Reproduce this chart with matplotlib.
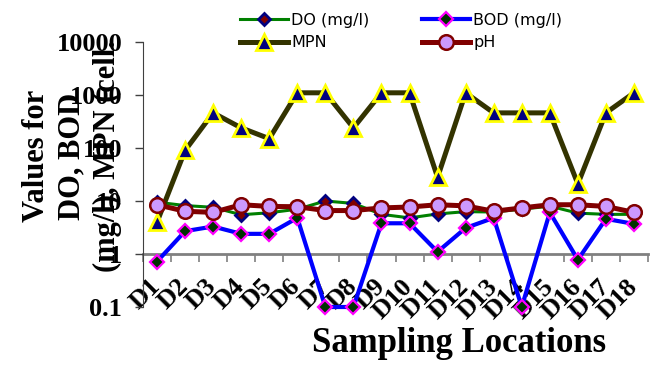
import matplotlib
matplotlib.use("Agg")
import matplotlib.pyplot as plt
import matplotlib.transforms as mtransforms
import numpy as np

locations = ["D1", "D2", "D3", "D4", "D5", "D6", "D7", "D8", "D9",
             "D10", "D11", "D12", "D13", "D14", "D15", "D16", "D17", "D18"]
do_vals = [9.5, 8.2, 7.6, 5.5, 6.0, 7.0, 10.0, 9.0, 5.6,
           4.8, 5.7, 6.3, 6.2, 7.0, 8.0, 5.9, 5.6, 5.6]
bod_vals = [0.72, 2.7, 3.3, 2.4, 2.4, 4.8, 0.1, 0.1, 3.8,
            3.8, 1.1, 3.1, 4.8, 0.1, 6.1, 0.78, 4.6, 3.7]
mpn_vals = [4, 90, 460, 240, 150, 1100, 1100, 240, 1100,
            1100, 28, 1100, 460, 460, 460, 21, 460, 1100]
ph_vals = [8.5, 6.4, 6.1, 8.5, 7.9, 7.8, 6.6, 6.6, 7.4,
           7.7, 8.5, 8.1, 6.4, 7.4, 8.5, 8.5, 7.9, 6.1]
y_ticks = [0.1, 1, 10, 100, 1000, 10000]
y_ticklabels = ["0.1", "1", "10", "100", "1000", "10000"]

serif = "Liberation Serif"
x = np.arange(len(locations))

fig = plt.figure(figsize=(6.68, 3.68), dpi=100)
ax = fig.add_axes([143 / 668, 1 - 307 / 368, 505 / 668, 265 / 368])

l_do, = ax.plot(x, do_vals, color="#008000", lw=2.2, marker="D", ms=6,
                mfc="#800000", mec="#000080", mew=2, label="DO (mg/l)", clip_on=False)
l_bod, = ax.plot(x, bod_vals, color="#0000FF", lw=3, marker="D", ms=7,
                 mfc="#003300", mec="#FF00FF", mew=1.6, label="BOD (mg/l)", clip_on=False)
l_mpn, = ax.plot(x, mpn_vals, color="#333300", lw=3.6, marker="^", ms=11,
                 mfc="#000080", mec="#FFFF00", mew=2, label="MPN", clip_on=False)
l_ph, = ax.plot(x, ph_vals, color="#800000", lw=3.6, marker="o", ms=10.5,
                mfc="#CC99FF", mec="#800000", mew=1.8, label="pH", clip_on=False)

ax.set_yscale("log")
ax.set_ylim(0.1, 10000)
ax.set_xlim(-0.5, len(locations) - 0.5)
ax.set_yticks(y_ticks)
ax.set_yticklabels(y_ticklabels, fontfamily=serif, fontweight="bold", fontsize=19)
ax.yaxis.set_minor_locator(matplotlib.ticker.NullLocator())
ax.tick_params(axis="y", length=6, width=1, color="#404040", pad=9)

for side in ["top", "right"]:
    ax.spines[side].set_visible(False)
ax.spines["left"].set_color("#404040")
ax.spines["bottom"].set_position(("data", 1))
ax.spines["bottom"].set_color("#808080")
ax.spines["bottom"].set_linewidth(2)
ax.spines["bottom"].set_zorder(1)

ax.set_xticks(np.arange(len(locations) + 1) - 0.5)
ax.set_xticklabels([])
ax.tick_params(axis="x", which="major", length=6, width=1.2, color="#808080")
ax.set_xticks(x, minor=True)
ax.set_xticklabels(locations, minor=True, rotation=45, ha="right", va="top",
                   fontfamily=serif, fontweight="bold", fontsize=19)
ax.tick_params(axis="x", which="minor", length=0, pad=15)
shift = mtransforms.ScaledTranslation(8 / 100, 0, fig.dpi_scale_trans)
for lab in ax.get_xticklabels(minor=True):
    lab.set_transform(lab.get_transform() + shift)

fig.text(459 / 668, 1 - 352 / 368, "Sampling Locations", ha="center", va="baseline",
         fontfamily=serif, fontweight="bold", fontsize=25)
fig.text(72 / 668, 1 - 156 / 368, "Values for\nDO, BOD\n(mg/l), MPN (cell.",
         rotation=90, ha="center", va="center", multialignment="center",
         fontfamily=serif, fontweight="bold", fontsize=22, linespacing=1.3)

fig.legend([l_do, l_mpn, l_bod, l_ph], ["DO (mg/l)", "MPN", "BOD (mg/l)", "pH"],
           loc="upper left", bbox_to_anchor=(240 / 668, 1 - 13 / 368), ncol=2,
           frameon=False, fontsize=11.5, handlelength=3.0, handletextpad=0.2,
           columnspacing=3.3, labelspacing=0.45, borderpad=0, borderaxespad=0)

fig.savefig("out.png", dpi=100)
